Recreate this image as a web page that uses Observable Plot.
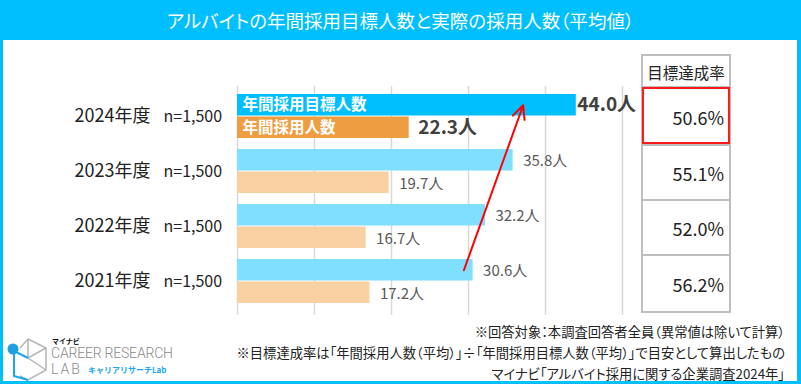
<!DOCTYPE html>
<html><head><meta charset="utf-8">
<script src="https://cdn.jsdelivr.net/npm/d3@7"></script>
<script src="https://cdn.jsdelivr.net/npm/@observablehq/plot@0.6"></script>
<style>
body{margin:0;background:#fff;font-family:"Noto Sans CJK JP","Noto Sans",sans-serif;}
#wrap{position:relative;width:801px;height:392px;overflow:hidden;background:#fff;}
#frame{position:absolute;left:0;top:0;width:801px;height:384px;background:#00BFFF;}
#inner{position:absolute;left:3px;top:40px;width:794px;height:341px;background:#fff;}
#title{position:absolute;left:0;top:0;width:801px;height:40px;line-height:40px;text-align:center;color:#fff;font-size:18.5px;font-feature-settings:"palt";}
#chart{position:absolute;left:0;top:0;}
#chart svg{background:transparent;}
.cell{position:absolute;box-sizing:border-box;border:2px solid #bfbfbf;background:#fff;color:#222;}
.hdr{font-size:15.5px;text-align:center;}
.rate{font-size:18px;text-align:right;padding-right:5px;}
.red{position:absolute;box-sizing:border-box;border:2px solid #ff1a1a;}
#notes{position:absolute;right:16px;top:321px;text-align:right;color:#222;font-size:13.3px;line-height:21px;font-feature-settings:"palt";}
#logo{position:absolute;left:6px;top:336px;width:200px;height:48px;}
.lg{position:absolute;font-family:Roboto,'Noto Sans',sans-serif;font-weight:300;color:#8a8a8a;white-space:nowrap;}
</style></head>
<body>
<div id="wrap">
  <div id="frame"></div>
  <div id="inner"></div>
  <div id="title"></div>
  <div id="chart"></div>
  <div id="table"></div>
  <div id="notes"></div>
  <div id="logo">
    <svg width="44" height="48" style="position:absolute;left:0;top:0">
      <g fill="none" stroke="#b5b5b5" stroke-width="1.5">
        <path d="M22 3 L40 12 L40 34 L22 44 L14 40"/>
        <path d="M22 3 L22 22 L40 12"/>
        <path d="M22 22 L40 34"/>
        <path d="M14 12 L22 3"/>
      </g>
      <g fill="none" stroke="#1ea7e8" stroke-width="2">
        <path d="M8 15 L8 40 L22 44"/>
        <path d="M8 15 L22 22"/>
      </g>
      <circle cx="7" cy="13" r="5.5" fill="#1e9fe0"/>
    </svg>
    <div style="position:absolute;left:46px;top:1px;font-size:7px;line-height:8px;font-weight:bold;color:#111;">マイナビ</div>
    <div class="lg" style="left:45px;top:9px;font-size:14px;line-height:16px;letter-spacing:-0.2px;">CAREER RESEARCH</div>
    <div class="lg" style="left:45px;top:25px;font-size:14px;line-height:16px;letter-spacing:2px;">LAB</div>
    <div style="position:absolute;left:82px;top:29px;font-size:8px;line-height:10px;font-weight:bold;color:#1ea7e8;white-space:nowrap;">キャリアリサーチLab</div>
  </div>
</div>
<script>
// ---- data ----
const titleText = "アルバイトの年間採用目標人数と実際の採用人数（平均値）";
const years = ["2024年度", "2023年度", "2022年度", "2021年度"];
const sampleSizes = ["n=1,500", "n=1,500", "n=1,500", "n=1,500"];
const seriesNames = ["年間採用目標人数", "年間採用人数"];
const targetCounts = [44.0, 35.8, 32.2, 30.6];
const actualCounts = [22.3, 19.7, 16.7, 17.2];
const achievementRates = [50.6, 55.1, 52.0, 56.2];
const tableHeader = "目標達成率";
const xTicks = [0, 10, 20, 30, 40, 50];
const arrowYears = ["2021年度", "2024年度"];
const arrowX = [29.4, 37.1];
const notes = [
  "※回答対象：本調査回答者全員（異常値は除いて計算）",
  "※目標達成率は「年間採用人数（平均）」÷「年間採用目標人数（平均）」で目安として算出したもの",
  "マイナビ「アルバイト採用に関する企業調査2024年」"
];

// ---- build ----
document.getElementById("title").textContent = titleText;
document.getElementById("notes").innerHTML = notes.map(t => `<div>${t}</div>`).join("");

const rows = years.map((y, i) => ({
  year: y, n: sampleSizes[i], target: targetCounts[i], actual: actualCounts[i], latest: i === 0
}));
const latest = rows.filter(d => d.latest);
const past = rows.filter(d => !d.latest);
const half = 22.5;
const font = '"Noto Sans CJK JP", "Noto Sans", sans-serif';

const chart = Plot.plot({
  width: 801, height: 392,
  marginLeft: 237, marginRight: 179, marginTop: 86, marginBottom: 81,
  style: {background: "transparent", fontFamily: font},
  x: {domain: [0, 50], axis: null},
  y: {domain: years, paddingInner: 0.196, paddingOuter: 0.107, axis: null},
  marks: [
    Plot.ruleX(xTicks, {stroke: "#d9d9d9", strokeWidth: 1.5, insetBottom: -4}),
    Plot.barX(past, {y: "year", x: "target", fill: "#80DFFF", insetBottom: half}),
    Plot.barX(past, {y: "year", x: "actual", fill: "#F8D0A2", insetTop: half}),
    Plot.barX(latest, {y: "year", x: "target", fill: "#00BFFF", insetBottom: half}),
    Plot.barX(latest, {y: "year", x: "actual", fill: "#EE9E40", insetTop: half}),
    Plot.text(latest, {y: "year", frameAnchor: "left", text: () => seriesNames[0], dx: 5, dy: -half / 2, textAnchor: "start", fill: "white", fontWeight: "bold", fontSize: 15.5}),
    Plot.text(latest, {y: "year", frameAnchor: "left", text: () => seriesNames[1], dx: 5, dy: half / 2, textAnchor: "start", fill: "white", fontWeight: "bold", fontSize: 15.5}),
    Plot.text(past, {y: "year", x: "target", text: d => d.target.toFixed(1) + "人", dx: 10, dy: -half / 2 + 1, textAnchor: "start", fill: "#595959", fontSize: 15}),
    Plot.text(past, {y: "year", x: "actual", text: d => d.actual.toFixed(1) + "人", dx: 10, dy: half / 2 + 1, textAnchor: "start", fill: "#595959", fontSize: 15}),
    Plot.text(latest, {y: "year", x: "target", text: d => d.target.toFixed(1) + "人", dx: 1, dy: -half / 2, textAnchor: "start", fill: "#404040", fontWeight: "bold", fontSize: 19}),
    Plot.text(latest, {y: "year", x: "actual", text: d => d.actual.toFixed(1) + "人", dx: 9, dy: half / 2, textAnchor: "start", fill: "#404040", fontWeight: "bold", fontSize: 19}),
    Plot.text(rows, {y: "year", frameAnchor: "left", text: "year", dx: -87, textAnchor: "end", fill: "#222", fontSize: 18}),
    Plot.text(rows, {y: "year", frameAnchor: "left", text: "n", dx: -74, textAnchor: "start", fill: "#222", fontSize: 16}),
    Plot.arrow([{from: arrowYears[0], to: arrowYears[1], x1: arrowX[0], x2: arrowX[1]}],
      {x1: "x1", y1: "from", x2: "x2", y2: "to", dy: -half / 2, stroke: "#FF0000", strokeWidth: 2, headLength: 11, headAngle: 50})
  ]
});
document.getElementById("chart").appendChild(chart);

// ---- table (rates) ----
const table = document.getElementById("table");
const tx = 641, tw = 90;
const rowTops = [86, 144, 199, 254], rowBottom = 311;
let html = `<div class="cell hdr" style="left:${tx}px;top:54px;width:${tw}px;height:34px;line-height:33px;">${tableHeader}</div>`;
achievementRates.forEach((r, i) => {
  const top = rowTops[i], h = (i < 3 ? rowTops[i + 1] : rowBottom) - top + 2;
  html += `<div class="cell rate" style="left:${tx}px;top:${top}px;width:${tw}px;height:${h}px;line-height:${h - 2}px;">${r.toFixed(1)}%</div>`;
});
html += `<div class="red" style="left:${tx + 1}px;top:87px;width:${tw - 2}px;height:57px;"></div>`;
table.innerHTML = html;
</script>
</body></html>
